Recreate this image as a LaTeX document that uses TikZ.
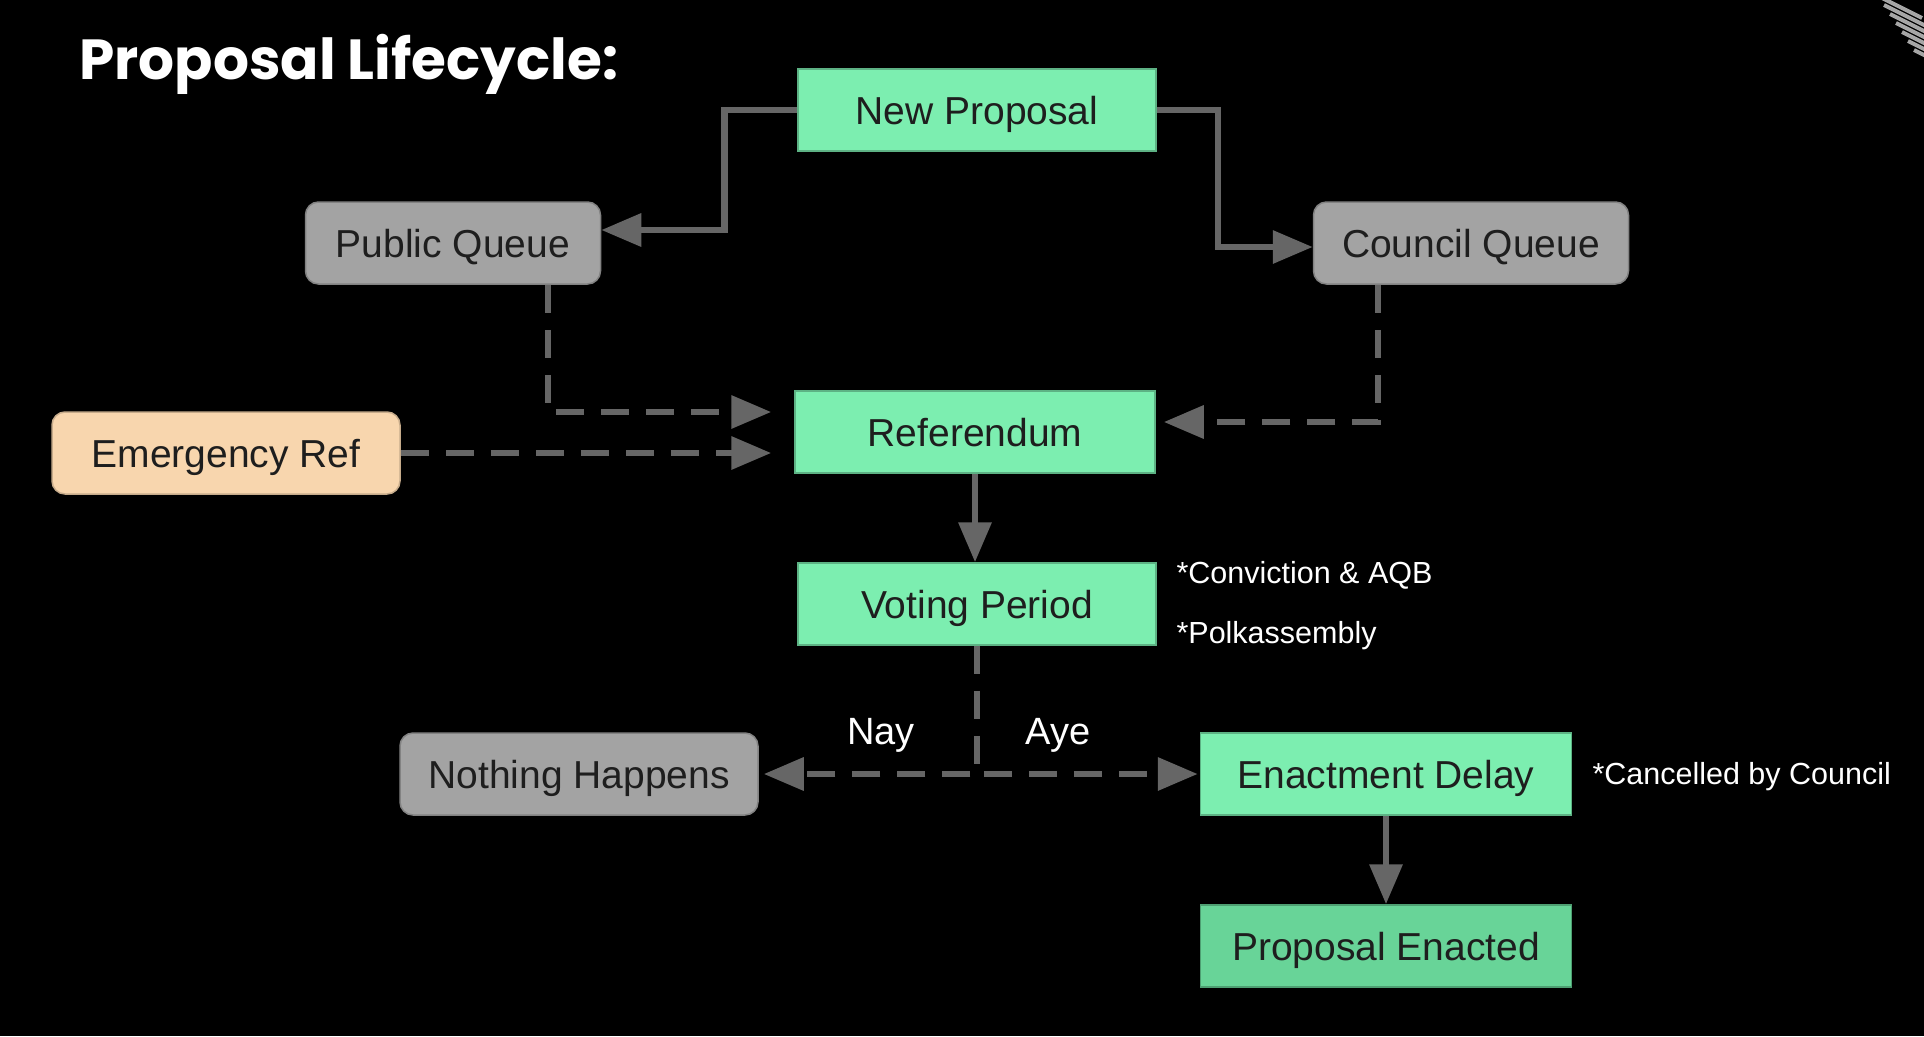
\documentclass[tikz,border=0pt]{standalone}
\usepackage{fontspec}
\setmainfont{Liberation Sans}
\newfontfamily\titlefont{Poppins}
\usetikzlibrary{arrows.meta}

\definecolor{mint}{RGB}{124,238,176}
\definecolor{mintdeep}{RGB}{104,212,152}
\definecolor{boxgray}{RGB}{163,163,163}
\definecolor{peach}{RGB}{248,214,174}
\definecolor{linkgray}{RGB}{102,102,102}
\definecolor{inkdark}{RGB}{30,30,30}

\begin{document}
\begin{tikzpicture}[x=1pt,y=-1pt,
    box/.style={minimum height=82pt, inner sep=0pt, text=inkdark,
        text height=34pt, text depth=6pt,
        font=\fontsize{39}{45}\selectfont, line width=1.5pt},
    greenbox/.style={box, fill=mint, draw=mint!75!black, minimum width=358pt},
    graybox/.style={box, fill=boxgray, draw=boxgray!80!black, rounded corners=13pt},
    link/.style={draw=linkgray, line width=6.5pt,
        -{Triangle[length=40pt,width=32pt]}},
    dlink/.style={link, dash pattern=on 28pt off 17pt},
    vote/.style={anchor=base, text=white, font=\fontsize{38}{44}\selectfont},
    note/.style={anchor=base west, text=white, font=\fontsize{30.5}{36}\selectfont},
    stripe/.style={draw=gray!70, line width=4pt}
]
    % Background and page size
    \fill[black] (0,0) rectangle (1924,1036);
    \useasboundingbox (0,0) rectangle (1924,1036);

    % Corner decoration
    \begin{scope}
        \clip (1860,0) rectangle (1924,60);
        \foreach \k in {0,...,6}
            \draw[stripe] ({1878+6*\k},{-4+9*\k}) -- ++(44,22);
    \end{scope}

    % Title
    \node[anchor=base west, text=white, font=\titlefont\bfseries\fontsize{56.5}{62}\selectfont]
        (title) at (76,79) {Proposal Lifecycle:};

    % Boxes
    \node[greenbox] (np) at (977,110) {New Proposal};
    \node[graybox, minimum width=295pt] (pq) at (453,243) {Public Queue};
    \node[graybox, minimum width=315pt] (cq) at (1471,243) {Council Queue};
    \node[greenbox, minimum width=360pt] (ref) at (975,432) {Referendum};
    \node[box, fill=peach, draw=peach!80!black, rounded corners=13pt,
        minimum width=348pt] (er) at (226,453) {Emergency Ref};
    \node[greenbox] (vp) at (977,604) {Voting Period};
    \node[graybox, minimum width=358pt] (nh) at (579,774) {Nothing Happens};
    \node[greenbox, minimum width=371pt] (ed) at (1386,774) {Enactment Delay};
    \node[greenbox, minimum width=371pt, fill=mintdeep, draw=mintdeep!75!black]
        (pe) at (1386,946) {Proposal Enacted};

    % Solid connectors
    \draw[link] (np.west) -- ++(-73,0) |- ([yshift=13pt]pq.east);
    \draw[link] (np.east) -- ++(61,0) |- ([yshift=-4pt]cq.west);
    \draw[link] (ref.south) -- (ref.south |- vp.north);
    \draw[link] (ed.south) -- (pe.north);

    % Dashed connectors
    \draw[dlink, shorten >=23pt] ([xshift=95pt]pq.south) |- ([yshift=20pt]ref.west);
    \draw[dlink, shorten >=23pt] (er.east) -- (er.east -| ref.west);
    \draw[dlink, shorten >=8pt] ([xshift=-93pt]cq.south) |- ([yshift=10pt]ref.east);
    \draw[dlink, shorten >=5pt] (vp.south) |- (nh.east);
    \draw[dlink, shorten >=2pt] (vp.south) |- (ed.west);

    % Vote labels
    \node[vote] (nay) at (881,744) {Nay};
    \node[vote] (aye) at (1058,744) {Aye};

    % Notes
    \node[note] (n1) at (1173,583) {*Conviction \& AQB};
    \node[note] (n2) at (1173,643) {*Polkassembly};
    \node[note] (n3) at (1589,784) {*Cancelled by Council};
\end{tikzpicture}
\end{document}
